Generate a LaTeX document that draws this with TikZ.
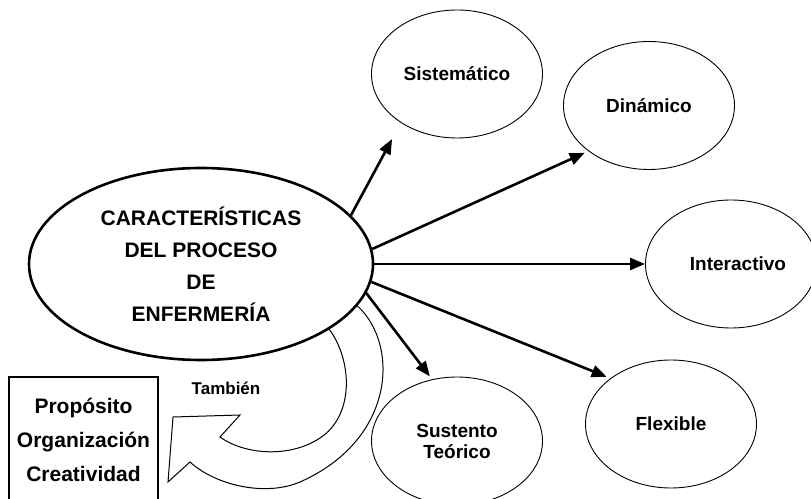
\documentclass[tikz,border=0pt]{standalone}
\usepackage{fontspec}
\setmainfont{Liberation Sans}
\usetikzlibrary{arrows.meta,shapes.geometric}

\begin{document}
\begin{tikzpicture}
[x=1pt,y=1pt,
  mainDecorate/.style={shape=ellipse,draw,line width=2.6pt,inner sep=0pt,
    minimum width=344pt,minimum height=192pt,align=center,
    font=\bfseries\fontsize{21}{32}\selectfont},
  satDecorate/.style={shape=ellipse,draw,line width=0.9pt,inner sep=0pt,
    minimum width=171pt,minimum height=128pt,align=center,
    font=\bfseries\fontsize{19}{21}\selectfont},
  boxDecorate/.style={shape=rectangle,draw,line width=1.1pt,inner sep=0pt,
    minimum width=149pt,minimum height=125pt,align=center,
    font=\bfseries\fontsize{21}{34}\selectfont},
  arrowDecorate/.style={line width=2.6pt,-{Triangle[length=15pt,width=12pt]}},
  bendDecorate/.style={line width=1pt,line join=miter}]
\useasboundingbox (0,0) rectangle (811,498);
%% central node
\node (main) at (201,234) [mainDecorate]
  {CARACTERÍSTICAS\\DEL PROCESO\\DE\\ENFERMERÍA};
%% characteristics
\foreach \nodename/\x/\y/\txt in {
  sis/457/424/Sistemático,
  din/649/392.5/Dinámico,
  int/731/234/\hspace*{14pt}Interactivo,
  flex/671/74/Flexible,
  sus/457/57/{Sustento\\Teórico}}
{
  \node (\nodename) at (\x,\y) [satDecorate] {\txt};
}
\node (extra) at (83.5,58.5) [boxDecorate] {Propósito\\Organización\\Creatividad};
\node (tambien) at (226,110) [font=\bfseries\fontsize{17}{20}\selectfont] {También};
%% edges or lines
\path
\foreach \startangle/\endnode/\endangle/\gap in {
  18/sis/221.4/18.5pt, 5.3/din/217.7/4pt, 0/int/180/0pt,
  354.6/flex/143/4pt, 350.1/sus/112.9/3.7pt}
{
  (main.\startangle) edge[arrowDecorate,shorten >=\gap] (\endnode.\endangle)
};
%% bent hollow arrow
\draw[bendDecorate] (main.345.5)
  .. controls (400,153) and (395,58) .. (300,16)
  .. controls (265,1) and (215,13) .. (190,36)
  -- (168,16) -- (173,81) -- (240,83) -- (220,61)
  .. controls (245,43) and (290,40) .. (320,60)
  .. controls (355,83) and (352,138) .. (main.333.6);
\end{tikzpicture}
\end{document}
